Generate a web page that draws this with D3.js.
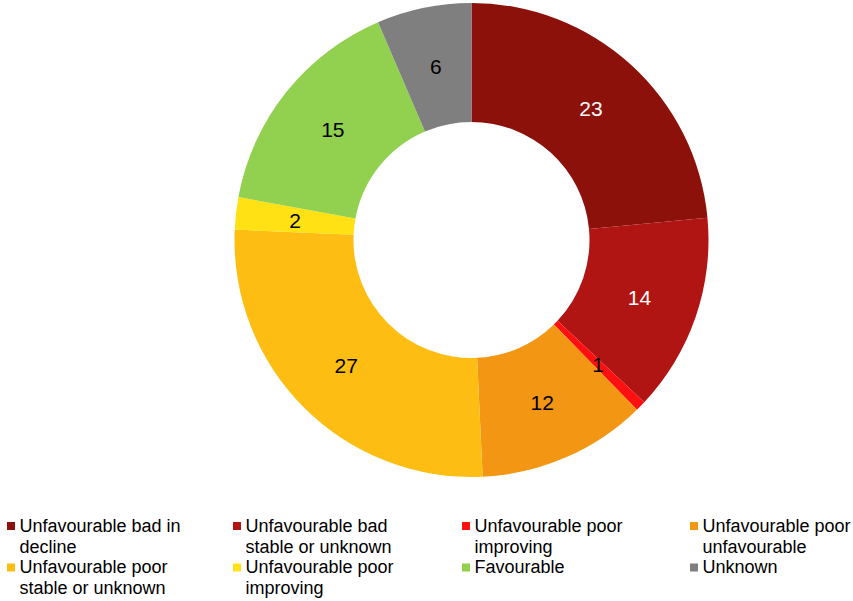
<!DOCTYPE html>
<html><head><meta charset="utf-8">
<script src="https://cdn.jsdelivr.net/npm/d3@7"></script>
<style>body{margin:0;background:#fff}svg{display:block}</style>
</head><body>
<svg id="c" width="853" height="601"></svg>
<script>
const categories = ["Unfavourable bad in decline","Unfavourable bad stable or unknown","Unfavourable poor improving","Unfavourable poor unfavourable","Unfavourable poor stable or unknown","Unfavourable poor improving","Favourable","Unknown"];
const legendLines = [["Unfavourable bad in","decline"],["Unfavourable bad","stable or unknown"],["Unfavourable poor","improving"],["Unfavourable poor","unfavourable"],["Unfavourable poor","stable or unknown"],["Unfavourable poor","improving"],["Favourable"],["Unknown"]];
// shown (rounded) labels and estimated underlying shares read from slice geometry
const labels = [23,14,1,12,27,2,15,6];
const values = [23.5,13.5,0.7,11.55,26.45,2.2,15.65,6.45];
const colors = ["#8B110A","#B01514","#FF1010","#F39613","#FDBD13","#FFE114","#92D050","#7F7F7F"];
const labelColors = ["#fff","#fff","#000","#000","#000","#000","#000","#000"];

const svg = d3.select("#c");
const cx = 471.5, cy = 240, R = 237, r = 118;
const pie = d3.pie().sort(null).value(d=>d)(values);
const arc = d3.arc().innerRadius(r).outerRadius(R);
const labArc = d3.arc().innerRadius((r+R)/2).outerRadius((r+R)/2);
const g = svg.append("g").attr("transform",`translate(${cx},${cy})`);
g.selectAll("path").data(pie).join("path").attr("d",arc).attr("fill",(d,i)=>colors[i]);
g.selectAll("text").data(pie).join("text")
  .attr("transform",d=>`translate(${labArc.centroid(d)})`)
  .attr("text-anchor","middle").attr("dy","0.36em")
  .attr("font-family","Liberation Sans, Arial, sans-serif").attr("font-size",21)
  .attr("fill",(d,i)=>labelColors[i]).text((d,i)=>labels[i]);

const colX = [7,233,462,690];
const rowY = [531.5,573];
const lh = 21;
const lg = svg.append("g").attr("font-family","Liberation Sans, Arial, sans-serif").attr("font-size",18).attr("fill","#000");
legendLines.forEach((lines,i)=>{
  const x = colX[i%4], y = rowY[Math.floor(i/4)];
  lg.append("rect").attr("x",x).attr("y",y-9.5).attr("width",8).attr("height",8).attr("fill",colors[i]);
  const t = lg.append("text").attr("x",x+12.5).attr("y",y);
  lines.forEach((l,j)=>t.append("tspan").attr("x",x+12.5).attr("y",y+j*lh).text(l));
});
</script>
</body></html>
